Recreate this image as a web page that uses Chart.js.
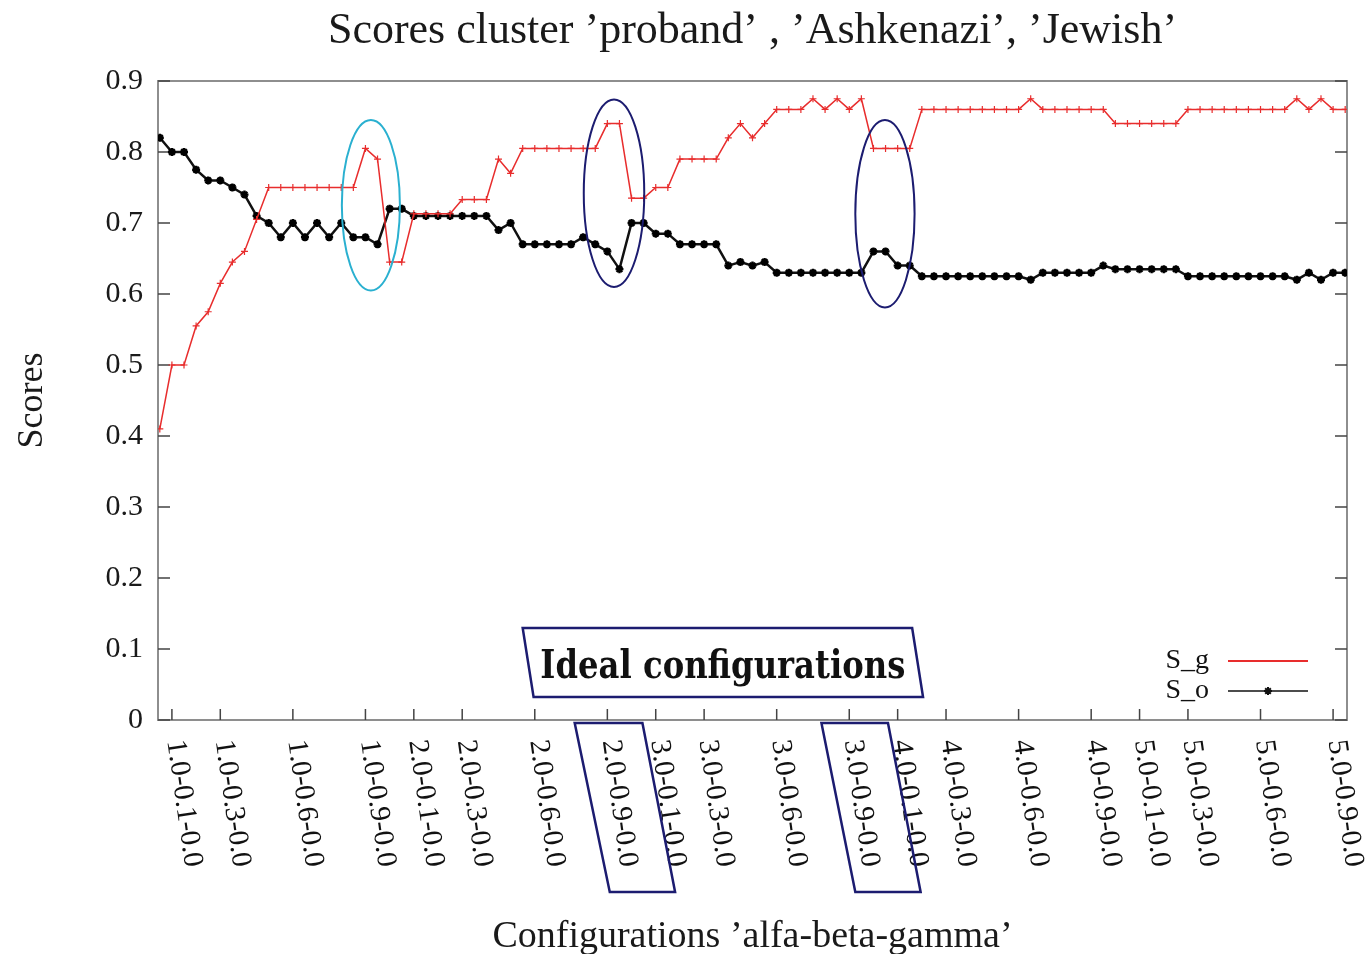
<!DOCTYPE html>
<html>
<head>
<meta charset="utf-8">
<title>Scores cluster</title>
<script src="https://cdn.jsdelivr.net/npm/chart.js@4.4.1/dist/chart.umd.min.js"></script>
<style>
    html, body { margin: 0; padding: 0; background: #fff; }
    #wrap { width: 1369px; height: 954px; position: relative; }
</style>
</head>
<body>
<div id="wrap"><canvas id="scoresChart"></canvas></div>
<script>
// Scores per configuration step (x = step index, 99 steps)
const sG = [
    0.41, 0.50, 0.50, 0.555, 0.575, 0.615, 0.645, 0.66, 0.705, 0.75,
    0.75, 0.75, 0.75, 0.75, 0.75, 0.75, 0.75, 0.805, 0.79, 0.645,
    0.645, 0.713, 0.713, 0.713, 0.713, 0.733, 0.733, 0.733, 0.79, 0.77,
    0.805, 0.805, 0.805, 0.805, 0.805, 0.805, 0.805, 0.84, 0.84, 0.735,
    0.735, 0.75, 0.75, 0.79, 0.79, 0.79, 0.79, 0.82, 0.84, 0.82,
    0.84, 0.86, 0.86, 0.86, 0.875, 0.86, 0.875, 0.86, 0.875, 0.805,
    0.805, 0.805, 0.805, 0.86, 0.86, 0.86, 0.86, 0.86, 0.86, 0.86,
    0.86, 0.86, 0.875, 0.86, 0.86, 0.86, 0.86, 0.86, 0.86, 0.84,
    0.84, 0.84, 0.84, 0.84, 0.84, 0.86, 0.86, 0.86, 0.86, 0.86,
    0.86, 0.86, 0.86, 0.86, 0.875, 0.86, 0.875, 0.86, 0.86
];
const sO = [
    0.82, 0.80, 0.80, 0.775, 0.76, 0.76, 0.75, 0.74, 0.71, 0.70,
    0.68, 0.70, 0.68, 0.70, 0.68, 0.70, 0.68, 0.68, 0.67, 0.72,
    0.72, 0.71, 0.71, 0.71, 0.71, 0.71, 0.71, 0.71, 0.69, 0.70,
    0.67, 0.67, 0.67, 0.67, 0.67, 0.68, 0.67, 0.66, 0.635, 0.70,
    0.70, 0.685, 0.685, 0.67, 0.67, 0.67, 0.67, 0.64, 0.645, 0.64,
    0.645, 0.63, 0.63, 0.63, 0.63, 0.63, 0.63, 0.63, 0.63, 0.66,
    0.66, 0.64, 0.64, 0.625, 0.625, 0.625, 0.625, 0.625, 0.625, 0.625,
    0.625, 0.625, 0.62, 0.63, 0.63, 0.63, 0.63, 0.63, 0.64, 0.635,
    0.635, 0.635, 0.635, 0.635, 0.635, 0.625, 0.625, 0.625, 0.625, 0.625,
    0.625, 0.625, 0.625, 0.625, 0.62, 0.63, 0.62, 0.63, 0.63
];

// x tick positions (step index) and their labels
const tickPositions = [1, 5, 11, 17, 21, 25, 31, 37, 41, 45, 51, 57, 61, 65, 71, 77, 81, 85, 91, 97];
const tickLabels = [
    '1.0-0.1-0.0', '1.0-0.3-0.0', '1.0-0.6-0.0', '1.0-0.9-0.0',
    '2.0-0.1-0.0', '2.0-0.3-0.0', '2.0-0.6-0.0', '2.0-0.9-0.0',
    '3.0-0.1-0.0', '3.0-0.3-0.0', '3.0-0.6-0.0', '3.0-0.9-0.0',
    '4.0-0.1-0.0', '4.0-0.3-0.0', '4.0-0.6-0.0', '4.0-0.9-0.0',
    '5.0-0.1-0.0', '5.0-0.3-0.0', '5.0-0.6-0.0', '5.0-0.9-0.0'
];
const yTicks = [0, 0.1, 0.2, 0.3, 0.4, 0.5, 0.6, 0.7, 0.8, 0.9];

// hand drawn marks, in data units
const ellipses = [
    { x: 17.45, y: 0.725, rx: 2.4, ry: 0.12, color: '#2ab0d0' },
    { x: 37.55, y: 0.742, rx: 2.5, ry: 0.132, color: '#1c1c70' },
    { x: 59.95, y: 0.713, rx: 2.45, ry: 0.132, color: '#1c1c70' }
];
const idealBox = { x0: 30.0, x1: 62.2, shift: 0.9, yTop: 0.1296, yBot: 0.0324 };
const labelBoxes = [
    { topL: 34.3, topR: 39.9, botL: 37.2, botR: 42.6 },
    { topL: 54.7, topR: 60.2, botL: 57.5, botR: 62.9 }
];

const serif = '"Liberation Serif", "Times New Roman", serif';

const gnuplotFrame = {
    id: 'gnuplotFrame',
    beforeDatasetsDraw(chart) {
        const { ctx, chartArea: a, scales: { x, y } } = chart;
        ctx.save();
        ctx.strokeStyle = '#8e8e8e';
        ctx.lineWidth = 2;
        ctx.strokeRect(a.left, a.top, a.right - a.left, a.bottom - a.top);
        ctx.strokeStyle = '#444';
        ctx.lineWidth = 1.5;
        ctx.beginPath();
        yTicks.forEach(v => {
            const py = y.getPixelForValue(v);
            ctx.moveTo(a.left, py); ctx.lineTo(a.left + 12, py);
            ctx.moveTo(a.right, py); ctx.lineTo(a.right - 12, py);
        });
        tickPositions.forEach(v => {
            const px = x.getPixelForValue(v);
            ctx.moveTo(px, a.bottom); ctx.lineTo(px, a.bottom - 11);
        });
        ctx.stroke();
        ctx.restore();
    },
    afterDraw(chart) {
        const { ctx, chartArea: a, scales: { x, y } } = chart;
        ctx.save();

        // slanted x tick labels
        ctx.font = '29px ' + serif;
        ctx.fillStyle = '#111';
        ctx.textAlign = 'left';
        ctx.textBaseline = 'middle';
        tickPositions.forEach((v, i) => {
            ctx.save();
            ctx.translate(x.getPixelForValue(v) + 3, a.bottom + 20);
            ctx.rotate(82 * Math.PI / 180);
            ctx.fillText(tickLabels[i], 0, 0);
            ctx.restore();
        });

        // ellipses round the interesting spots
        ctx.lineWidth = 2;
        ellipses.forEach(e => {
            const cx = x.getPixelForValue(e.x);
            const cy = y.getPixelForValue(e.y);
            const rx = Math.abs(x.getPixelForValue(e.x + e.rx) - cx);
            const ry = Math.abs(y.getPixelForValue(e.y + e.ry) - cy);
            ctx.strokeStyle = e.color;
            ctx.beginPath();
            ctx.ellipse(cx, cy, rx, ry, 0, 0, Math.PI * 2);
            ctx.stroke();
        });

        // "Ideal configurations" box
        const bx0 = x.getPixelForValue(idealBox.x0);
        const bx1 = x.getPixelForValue(idealBox.x1);
        const sh = x.getPixelForValue(idealBox.x0 + idealBox.shift) - bx0;
        const byT = y.getPixelForValue(idealBox.yTop);
        const byB = y.getPixelForValue(idealBox.yBot);
        ctx.strokeStyle = '#1c1c70';
        ctx.lineWidth = 2.5;
        ctx.beginPath();
        ctx.moveTo(bx0, byT); ctx.lineTo(bx1, byT);
        ctx.lineTo(bx1 + sh, byB); ctx.lineTo(bx0 + sh, byB);
        ctx.closePath();
        ctx.stroke();
        ctx.font = 'bold 40px "DejaVu Serif", serif';
        ctx.fillStyle = '#111';
        ctx.textAlign = 'center';
        const txt = 'Ideal configurations';
        const sx = 365 / ctx.measureText(txt).width;
        ctx.save();
        ctx.translate((bx0 + bx1 + sh) / 2, (byT + byB) / 2 + 5);
        ctx.scale(sx, 1);
        ctx.fillText(txt, 0, 0);
        ctx.restore();

        // boxes round the ideal tick labels
        labelBoxes.forEach(b => {
            const top = a.bottom + 3, bot = a.bottom + 172;
            ctx.beginPath();
            ctx.moveTo(x.getPixelForValue(b.topL), top);
            ctx.lineTo(x.getPixelForValue(b.topR), top);
            ctx.lineTo(x.getPixelForValue(b.botR), bot);
            ctx.lineTo(x.getPixelForValue(b.botL), bot);
            ctx.closePath();
            ctx.stroke();
        });

        // gnuplot style key
        const ds = chart.data.datasets;
        ctx.font = '28px ' + serif;
        ctx.textAlign = 'right';
        ctx.textBaseline = 'middle';
        [59, 29].forEach((off, i) => {
            const ly = a.bottom - off;
            ctx.fillStyle = '#111';
            ctx.fillText(ds[i].label, a.right - 138, ly);
            ctx.strokeStyle = ds[i].borderColor;
            ctx.lineWidth = i === 0 ? 2 : 1.5;
            ctx.beginPath();
            ctx.moveTo(a.right - 119, ly); ctx.lineTo(a.right - 39, ly);
            ctx.stroke();
            if (i === 1) {
                ctx.lineWidth = 2;
                Chart.helpers.drawPoint(ctx, { pointStyle: 'star', radius: 4, borderWidth: 2 }, a.right - 79, ly);
            }
        });
        ctx.restore();
    }
};

const ctx = document.getElementById('scoresChart');
new Chart(ctx, {
    type: 'line',
    data: {
        datasets: [{
            label: 'S_g',
            data: sG.map((v, i) => ({ x: i, y: v })),
            borderColor: 'rgb(232, 45, 45)',
            borderWidth: 1.5,
            pointStyle: 'cross',
            pointRadius: 3.5,
            pointBorderWidth: 1.2,
            pointBorderColor: 'rgb(232, 45, 45)',
            tension: 0
        }, {
            label: 'S_o',
            data: sO.map((v, i) => ({ x: i, y: v })),
            borderColor: '#111',
            borderWidth: 2.5,
            pointStyle: 'star',
            pointRadius: 4,
            pointBorderWidth: 2.4,
            pointBorderColor: '#000',
            tension: 0
        }]
    },
    options: {
        responsive: true,
        maintainAspectRatio: false,
        animation: false,
        events: [],
        layout: { padding: { left: 0, right: 22, top: 0, bottom: 0 } },
        plugins: {
            legend: { display: false },
            tooltip: { enabled: false },
            title: {
                display: true,
                fullSize: false,
                text: 'Scores cluster \u2019proband\u2019 , \u2019Ashkenazi\u2019, \u2019Jewish\u2019',
                color: '#1a1a1a',
                font: { family: serif, size: 44, weight: 'normal', lineHeight: 1.2 },
                padding: { top: 5, bottom: 23.2 }
            }
        },
        scales: {
            x: {
                type: 'linear',
                min: -0.15,
                max: 98.15,
                grid: { display: false },
                border: { display: false },
                ticks: { display: false },
                afterBuildTicks: s => { s.ticks = tickPositions.map(v => ({ value: v })); },
                afterFit: s => { s.height = 234; },
                title: {
                    display: true,
                    text: 'Configurations \u2019alfa-beta-gamma\u2019',
                    color: '#1a1a1a',
                    font: { family: serif, size: 38, lineHeight: 0.9 },
                    padding: 0
                }
            },
            y: {
                min: 0,
                max: 0.9,
                grid: { display: false, drawTicks: false },
                border: { display: false },
                afterBuildTicks: s => { s.ticks = yTicks.map(v => ({ value: v })); },
                afterFit: s => { s.width = 158; },
                ticks: {
                    color: '#1a1a1a',
                    padding: 15,
                    font: { family: serif, size: 30 },
                    callback: v => (v === 0 ? '0' : v.toFixed(1))
                },
                title: {
                    display: true,
                    text: 'Scores',
                    color: '#1a1a1a',
                    font: { family: serif, size: 36, lineHeight: 1.2 },
                    padding: { top: 11, bottom: 0 }
                }
            }
        }
    },
    plugins: [gnuplotFrame]
});
</script>
</body>
</html>
